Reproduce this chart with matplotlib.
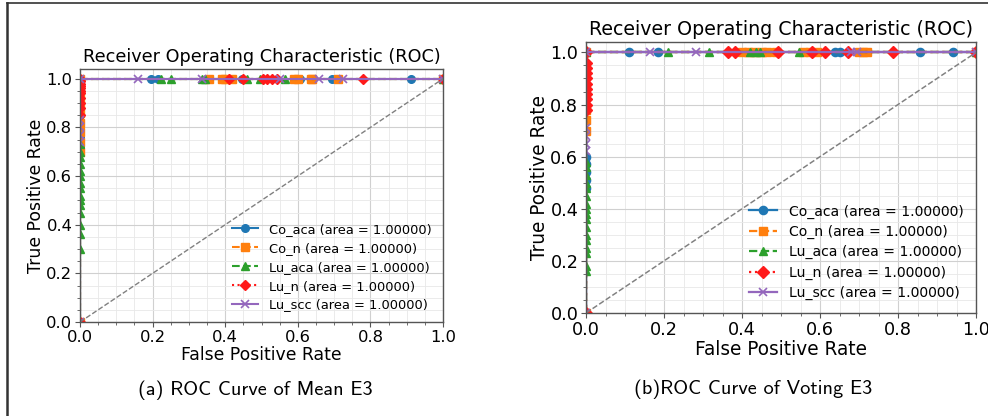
import matplotlib
matplotlib.use("Agg")
import matplotlib.pyplot as plt
from matplotlib.ticker import MultipleLocator
from matplotlib.lines import Line2D

# ---------------- data ----------------
class_names = ["Co_aca", "Co_n", "Lu_aca", "Lu_n", "Lu_scc"]
auc_values = [1.00000, 1.00000, 1.00000, 1.00000, 1.00000]

# Panel (a) Mean E3: TPR values reached at FPR = 0, and FPR values at TPR = 1
mean_tpr_at_zero = {
    "Co_aca": [0.0, 0.72, 0.76, 0.79, 0.82, 0.85, 0.88],
    "Co_n":   [0.0, 0.70, 0.74, 0.78, 0.82, 0.86, 0.90, 0.94],
    "Lu_aca": [0.0, 0.30, 0.36, 0.40, 0.45, 0.48, 0.50, 0.52, 0.55, 0.57,
               0.60, 0.62, 0.65, 0.68, 0.70, 0.73],
    "Lu_n":   [0.0, 0.85, 0.88, 0.90, 0.92, 0.94, 0.95, 0.96, 0.97, 0.98, 0.99],
    "Lu_scc": [0.0, 0.74, 0.77, 0.80, 0.83],
}
mean_fpr_at_one = {
    "Co_aca": [0.0, 0.195, 0.215, 0.446, 0.606, 0.693, 0.913, 1.0],
    "Co_n":   [0.0, 0.355, 0.39, 0.40, 0.42, 0.59, 0.60, 0.635, 0.64, 0.711, 1.0],
    "Lu_aca": [0.0, 0.222, 0.252, 0.336, 0.345, 0.46, 0.497, 0.565, 1.0],
    "Lu_n":   [0.0, 0.411, 0.45, 0.505, 0.515, 0.53, 0.543, 0.78, 1.0],
    "Lu_scc": [0.0, 0.16, 0.337, 0.55, 0.658, 0.725, 1.0],
}

# Panel (b) Voting E3
vote_tpr_at_zero = {
    "Co_aca": [0.0, 0.48, 0.51, 0.54, 0.57, 0.60],
    "Co_n":   [0.0, 0.70, 0.74, 0.78],
    "Lu_aca": [0.0, 0.16, 0.18, 0.23, 0.25, 0.28, 0.30, 0.33, 0.36, 0.38,
               0.40, 0.42, 0.45, 0.48, 0.50, 0.53, 0.56, 0.58],
    "Lu_n":   [0.0, 0.78, 0.80, 0.82, 0.84, 0.86, 0.88, 0.90, 0.92, 0.94, 0.96],
    "Lu_scc": [0.0, 0.62, 0.65, 0.68, 0.71],
}
vote_fpr_at_one = {
    "Co_aca": [0.0, 0.111, 0.185, 0.638, 0.651, 0.856, 0.942, 1.0],
    "Co_n":   [0.0, 0.40, 0.415, 0.43, 0.45, 0.465, 0.486, 0.556, 0.575, 0.592,
               0.70, 0.71, 0.72, 1.0],
    "Lu_aca": [0.0, 0.21, 0.315, 0.42, 0.435, 0.446, 0.546, 1.0],
    "Lu_n":   [0.0, 0.364, 0.382, 0.493, 0.579, 0.613, 0.672, 0.788, 1.0],
    "Lu_scc": [0.0, 0.164, 0.281, 0.68, 0.695, 1.0],
}

captions = ["(a) ROC Curve of Mean E3", "(b)ROC Curve of Voting E3"]
title_text = "Receiver Operating Characteristic (ROC)"

colors = ["#1f77b4", "#ff7f0e", "#2ca02c", "#ff1a1a", "#9467bd"]
markers = ["o", "s", "^", "D", "x"]
styles = ["-", "--", "--", ":", "-"]

# ---------------- figure ----------------
fig = plt.figure(figsize=(9.88, 4.16), dpi=100)
W, H = 988, 416


def box(x0, y0, x1, y1):
    return [x0 / W, 1 - y1 / H, (x1 - x0) / W, (y1 - y0) / H]


panels = [
    dict(rect=box(80, 69, 443, 322), tpr=mean_tpr_at_zero, fpr=mean_fpr_at_one,
         s=1.0, cap_x=255, cap_y=390, leg_y=-0.005),
    dict(rect=box(586, 42, 976, 313), tpr=vote_tpr_at_zero, fpr=vote_fpr_at_one,
         s=1.075, cap_x=753, cap_y=389, leg_y=0.0),
]

for p, cap in zip(panels, captions):
    s = p["s"]
    ax = fig.add_axes(p["rect"])
    for name, c, m, ls, auc in zip(class_names, colors, markers, styles, auc_values):
        t0 = p["tpr"][name]
        f1 = p["fpr"][name]
        fpr = [0.0] * len(t0) + f1
        tpr = t0 + [1.0] * len(f1)
        ax.plot(fpr, tpr, color=c, marker=m, linestyle=ls, lw=1.5 * s,
                markersize=5.5 * s, mew=1.2 if m == "x" else 1.0,
                label=f"{name} (area = {auc:.5f})")
    ax.plot([0, 1], [0, 1], linestyle="--", color="#808080", lw=1.0 * s)
    ax.set_xlim(0, 1.0)
    ax.set_ylim(0, 1.04)
    ax.xaxis.set_major_locator(MultipleLocator(0.2))
    ax.yaxis.set_major_locator(MultipleLocator(0.2))
    ax.xaxis.set_minor_locator(MultipleLocator(0.05))
    ax.yaxis.set_minor_locator(MultipleLocator(0.05))
    ax.grid(which="major", color="#d0d0d0", lw=0.8)
    ax.grid(which="minor", color="#e8e8e8", lw=0.6)
    ax.set_axisbelow(True)
    for sp in ax.spines.values():
        sp.set_color("#555555")
        sp.set_linewidth(1.0)
    ax.tick_params(which="major", labelsize=11.8 * s, length=3.5, pad=2,
                   color="#555555")
    ax.tick_params(which="minor", length=2, color="#555555")
    ax.set_title(title_text, fontsize=12.7 * s, pad=5)
    ax.set_xlabel("False Positive Rate", fontsize=12.4 * s, labelpad=1)
    ax.set_ylabel("True Positive Rate", fontsize=12.4 * s, labelpad=1)
    ax.legend(loc="lower right", fontsize=9.4 * s, frameon=False,
              bbox_to_anchor=(1.0, p["leg_y"]), labelspacing=0.45,
              handlelength=2.0)
    fig.text(p["cap_x"] / W, 1 - p["cap_y"] / H, cap, ha="center", va="center",
             fontsize=14.6, family=["cmss10", "DejaVu Sans"])

# outer frame lines (top and left)
fig.add_artist(Line2D([7 / W, 1.0], [1 - 3 / H, 1 - 3 / H], color="#333333",
                      lw=1.2, transform=fig.transFigure))
fig.add_artist(Line2D([7 / W, 7 / W], [0, 1 - 3 / H], color="#333333",
                      lw=1.8, transform=fig.transFigure))

fig.savefig("out.png", dpi=100)
